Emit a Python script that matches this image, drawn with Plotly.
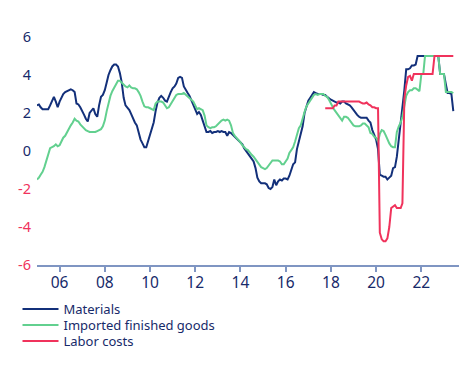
import pandas as pd
import plotly.graph_objects as go

# ---------------- data (monthly, y/y %) ----------------
materials_2005 = [2.4, 2.45, 2.3, 2.2, 2.2, 2.2, 2.2, 2.4, 2.65, 2.85, 2.6, 2.3]
materials_2006 = [2.6, 2.85, 3.0, 3.1, 3.15, 3.2, 3.25, 3.2, 3.1, 2.5, 2.45, 2.3]
materials_2007 = [2.05, 1.9, 1.7, 1.55, 2.0, 2.1, 2.25, 1.95, 1.8, 2.4, 2.85, 2.95]
materials_2008 = [3.2, 3.6, 4.0, 4.25, 4.45, 4.55, 4.55, 4.45, 4.1, 3.6, 2.8, 2.4]
materials_2009 = [2.3, 2.15, 1.95, 1.7, 1.5, 1.35, 0.95, 0.6, 0.4, 0.2, 0.2, 0.5]
materials_2010 = [0.8, 1.1, 1.5, 2.1, 2.55, 2.8, 2.9, 2.8, 2.65, 2.6, 2.9, 3.1]
materials_2011 = [3.3, 3.4, 3.55, 3.85, 3.9, 3.85, 3.4, 3.2, 3.05, 2.9, 2.65, 2.4]
materials_2012 = [2.2, 1.95, 2.05, 1.9, 1.6, 1.3, 1.0, 1.0, 1.05, 0.95, 1.0, 1.0]
materials_2013 = [1.05, 1.0, 1.05, 1.0, 1.0, 0.8, 1.0, 0.95, 0.85, 0.8, 0.7, 0.6]
materials_2014 = [0.5, 0.35, 0.15, 0.0, -0.15, -0.3, -0.45, -0.55, -0.9, -1.4, -1.6, -1.7]
materials_2015 = [-1.7, -1.7, -1.75, -1.95, -2.0, -1.9, -1.5, -1.8, -1.6, -1.5, -1.55, -1.45]
materials_2016 = [-1.45, -1.5, -1.3, -1.0, -0.7, -0.6, 0.1, 0.5, 0.9, 1.3, 2.0, 2.3]
materials_2017 = [2.65, 2.8, 2.95, 3.1, 3.05, 3.0, 3.0, 3.0, 2.95, 2.95, 2.85, 2.75]
materials_2018 = [2.7, 2.65, 2.6, 2.55, 2.55, 2.5, 2.6, 2.6, 2.5, 2.45, 2.4, 2.3]
materials_2019 = [2.15, 2.05, 1.9, 1.8, 1.75, 1.75, 1.75, 1.75, 1.6, 1.5, 1.1, 0.8]
materials_2020 = [0.6, 0.1, -1.25, -1.3, -1.35, -1.35, -1.5, -1.4, -1.3, -0.9, -0.85, -0.3]
materials_2021 = [0.6, 1.3, 2.2, 3.2, 4.3, 4.3, 4.35, 4.5, 4.5, 4.55, 5.0, 5.0]
materials_2022 = [5.0, 5.0, 5.0, 5.0, 5.0, 5.0, 5.0, 5.0, 5.0, 5.0, 4.05, 4.05]
materials_2023 = [4.05, 3.5, 3.05, 3.05, 3.0, 2.1]

imported_2005 = [-1.5, -1.4, -1.25, -1.1, -0.85, -0.5, -0.1, 0.15, 0.2, 0.25, 0.35, 0.25]
imported_2006 = [0.3, 0.55, 0.7, 0.8, 1.0, 1.15, 1.35, 1.5, 1.7, 1.6, 1.55, 1.4]
imported_2007 = [1.3, 1.15, 1.1, 1.05, 1.0, 1.0, 1.0, 1.0, 1.05, 1.1, 1.15, 1.3]
imported_2008 = [1.6, 2.1, 2.5, 2.9, 3.15, 3.35, 3.55, 3.7, 3.7, 3.6, 3.45, 3.4]
imported_2009 = [3.35, 3.45, 3.35, 3.3, 3.3, 3.25, 3.1, 2.9, 2.6, 2.35, 2.3, 2.3]
imported_2010 = [2.25, 2.2, 2.15, 2.5, 2.6, 2.6, 2.6, 2.55, 2.4, 2.25, 2.3, 2.45]
imported_2011 = [2.6, 2.75, 2.95, 3.0, 3.0, 3.0, 3.05, 2.95, 2.85, 2.75, 2.7, 2.6]
imported_2012 = [2.4, 2.2, 2.25, 2.2, 2.15, 1.85, 1.35, 1.25, 1.2, 1.25, 1.25, 1.3]
imported_2013 = [1.4, 1.55, 1.6, 1.65, 1.6, 1.65, 1.6, 1.35, 0.95, 0.8, 0.7, 0.6]
imported_2014 = [0.45, 0.3, 0.2, 0.1, 0.05, -0.1, -0.2, -0.3, -0.45, -0.6, -0.75, -0.85]
imported_2015 = [-0.9, -0.95, -0.9, -0.75, -0.6, -0.5, -0.5, -0.5, -0.5, -0.55, -0.7, -0.7]
imported_2016 = [-0.55, -0.4, -0.1, 0.05, 0.2, 0.5, 0.85, 1.2, 1.35, 1.75, 2.05, 2.35]
imported_2017 = [2.5, 2.7, 2.8, 2.95, 3.0, 2.95, 3.0, 3.0, 3.0, 2.9, 2.85, 2.7]
imported_2018 = [2.45, 2.3, 2.15, 2.0, 1.85, 1.7, 1.6, 1.8, 1.8, 1.75, 1.6, 1.5]
imported_2019 = [1.35, 1.3, 1.3, 1.3, 1.35, 1.45, 1.45, 1.35, 1.25, 0.95, 0.9, 0.75]
imported_2020 = [0.7, 0.5, 0.9, 1.1, 1.05, 0.85, 0.6, 0.4, 0.25, 0.2, 0.2, 1.0]
imported_2021 = [1.3, 1.5, 1.8, 2.4, 2.9, 3.1, 3.2, 3.2, 3.3, 3.3, 3.2, 3.15]
imported_2022 = [4.05, 4.05, 5.0, 5.0, 5.0, 5.0, 5.0, 5.0, 5.0, 5.0, 4.05, 4.05]
imported_2023 = [4.05, 3.1, 3.1, 3.1, 3.1, 3.05]

labor_2017 = [2.25, 2.25, 2.25]  # Oct-Dec
labor_2018 = [2.25, 2.25, 2.4, 2.4, 2.6, 2.6, 2.6, 2.6, 2.6, 2.6, 2.6, 2.6]
labor_2019 = [2.6, 2.6, 2.6, 2.6, 2.55, 2.5, 2.5, 2.55, 2.45, 2.4, 2.3, 2.3]
labor_2020 = [2.25, 2.25, -4.3, -4.65, -4.75, -4.75, -4.6, -4.0, -3.0, -2.9, -2.85, -3.0]
labor_2021 = [-3.0, -3.0, -2.75, 2.75, 3.45, 3.9, 3.95, 3.7, 4.05, 4.05, 4.05, 4.05]
labor_2022 = [4.05, 4.05, 4.05, 4.05, 4.05, 4.05, 4.05, 5.0, 5.0, 5.0, 5.0, 5.0]
labor_2023 = [5.0, 5.0, 5.0, 5.0, 5.0, 5.0]

series_names = ["Materials", "Imported finished goods", "Labor costs"]
series_colors = ["#13307a", "#62d08f", "#f0335c"]
y_tick_vals = [-6, -4, -2, 0, 2, 4, 6]

materials = (materials_2005 + materials_2006 + materials_2007 + materials_2008 + materials_2009
             + materials_2010 + materials_2011 + materials_2012 + materials_2013 + materials_2014
             + materials_2015 + materials_2016 + materials_2017 + materials_2018 + materials_2019
             + materials_2020 + materials_2021 + materials_2022 + materials_2023)
imported = (imported_2005 + imported_2006 + imported_2007 + imported_2008 + imported_2009
            + imported_2010 + imported_2011 + imported_2012 + imported_2013 + imported_2014
            + imported_2015 + imported_2016 + imported_2017 + imported_2018 + imported_2019
            + imported_2020 + imported_2021 + imported_2022 + imported_2023)
labor = labor_2017 + labor_2018 + labor_2019 + labor_2020 + labor_2021 + labor_2022 + labor_2023

dates_main = pd.date_range("2005-01-01", periods=len(materials), freq="MS")
dates_imp = pd.date_range("2005-01-01", periods=len(imported), freq="MS")
dates_lab = pd.date_range("2017-10-01", periods=len(labor), freq="MS")

NAVY = "#172a6a"
PINK = "#f0335c"
AXIS = "#7f95c2"
FONT = "Noto Sans"
# the page body has an 8px margin, so the figure is sized to fill the rest
W, H = 461, 359

fig = go.Figure()
legend_ids = ["legend", "legend2", "legend3"]
for name, color, x, y, lg in zip(series_names, series_colors,
                                 [dates_main, dates_imp, dates_lab],
                                 [materials, imported, labor], legend_ids):
    fig.add_trace(go.Scatter(x=x, y=y, mode="lines", name=name, legend=lg,
                             line=dict(color=color, width=2)))

tick_text = [
    f"<span style='color:{PINK}'>{v}</span>" if v < 0 else str(v)
    for v in y_tick_vals
]


def legend_at(ypix):
    return dict(
        xref="container", yref="container",
        x=9.5 / W, y=1 - ypix / H, xanchor="left", yanchor="middle",
        font=dict(family=FONT, size=13, color=NAVY),
        bgcolor="rgba(0,0,0,0)", borderwidth=0, itemwidth=36,
    )


fig.update_layout(
    width=W, height=H,
    margin=dict(l=29, r=10, t=29, b=102, autoexpand=False),
    paper_bgcolor="white", plot_bgcolor="white",
    font=dict(family=FONT, color=NAVY, size=14),
    showlegend=True,
    legend=legend_at(301),
    legend2=legend_at(317),
    legend3=legend_at(333),
    xaxis=dict(
        range=["2005-01-01", "2023-09-01"],
        tick0="2006-01-01", dtick="M24", tickformat="%y",
        showgrid=False, zeroline=False, automargin=False,
        showline=True, linecolor=AXIS, linewidth=1.5,
        ticks="outside", ticklen=5, tickcolor=AXIS, tickwidth=1.5,
        ticklabelstandoff=-2,
        tickfont=dict(family=FONT, size=15.5, color=NAVY),
    ),
    yaxis=dict(
        range=[-6, 6],
        tickvals=y_tick_vals, ticktext=tick_text,
        showgrid=False, zeroline=False, showline=False, automargin=False,
        ticks="", ticklabelstandoff=5,
        tickfont=dict(family=FONT, size=14.5, color=NAVY),
    ),
)

fig.write_html("out.html")
